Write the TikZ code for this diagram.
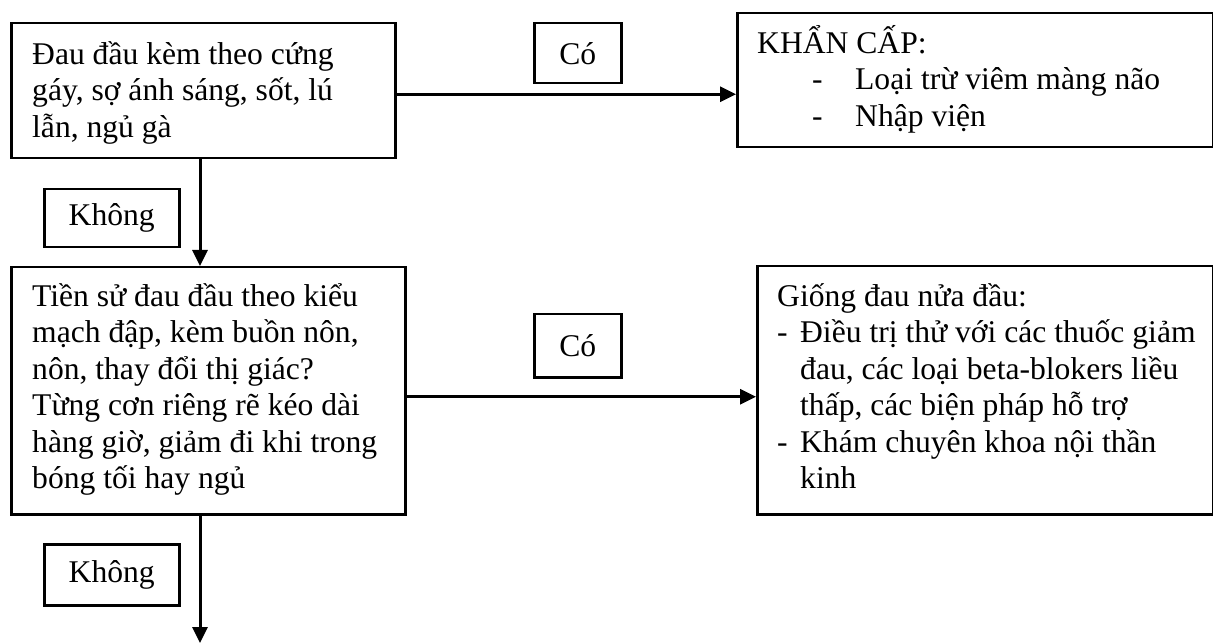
\documentclass[tikz,border=0pt]{standalone}
\usepackage{fontspec}
\setmainfont{Liberation Serif}
\usetikzlibrary{arrows.meta}
\newcommand\tstrut{\rule{0pt}{34pt}}
\begin{document}
\begin{tikzpicture}[x=1pt,y=-1pt,
  font=\fontsize{31.6}{36.5}\selectfont,
  box/.style={draw, line width=2.5pt, anchor=north west, inner sep=0pt},
  txt/.style={anchor=north west, inner sep=0pt, align=left},
  arr/.style={line width=3pt, -{Triangle[length=16pt,width=15pt]}}]
\useasboundingbox[fill=white] (0,0) rectangle (1213,644);
% boxes
\node[box, minimum width=384pt, minimum height=135pt] (b1) at (10,22) {};
\node[box, minimum width=87pt, minimum height=60pt] (co1) at (533,22) {Có};
\node[box, minimum width=476pt, minimum height=134pt] (k) at (736,12) {};
\node[box, minimum width=135pt, minimum height=58pt] (kh1) at (43,188) {Không};
\node[box, minimum width=394pt, minimum height=247pt] (b2) at (10,266) {};
\node[box, minimum width=87pt, minimum height=63pt] (co2) at (533,313) {Có};
\node[box, minimum width=456pt, minimum height=248pt] (g) at (756,265) {};
\node[box, minimum width=135pt, minimum height=61pt] (kh2) at (43,543) {Không};
% texts
\node[txt] (t1) at (32,30) {\tstrut Đau đầu kèm theo cứng\\ gáy, sợ ánh sáng, sốt, lú\\ lẫn, ngủ gà};
\node[txt] (tk) at (757,19) {\tstrut KHẨN CẤP:\\ \hspace*{55pt}\makebox[43pt][l]{-}Loại trừ viêm màng não\\ \hspace*{55pt}\makebox[43pt][l]{-}Nhập viện};
\node[txt] (t2) at (32,272) {\tstrut Tiền sử đau đầu theo kiểu\\ mạch đập, kèm buồn nôn,\\ nôn, thay đổi thị giác?\\ Từng cơn riêng rẽ kéo dài\\ hàng giờ, giảm đi khi trong\\ bóng tối hay ngủ};
\node[txt] (tg) at (777,272) {\tstrut Giống đau nửa đầu:\\ \makebox[23pt][l]{-}Điều trị thử với các thuốc giảm\\ \hspace*{23pt}đau, các loại beta-blokers liều\\ \hspace*{23pt}thấp, các biện pháp hỗ trợ\\ \makebox[23pt][l]{-}Khám chuyên khoa nội thần\\ \hspace*{23pt}kinh};
% connectors
\coordinate (end) at (200,643);
\draw[arr] (b1.south -| end) -- (b2.north -| end);
\draw[arr] ([yshift=-3.5pt]b1.east) -- ([yshift=-3.5pt]b1.east -| k.west);
\draw[arr] ([yshift=-6pt]b2.east) -- ([yshift=-6pt]b2.east -| g.west);
\draw[arr] (b2.south -| end) -- (end);
\end{tikzpicture}
\end{document}
